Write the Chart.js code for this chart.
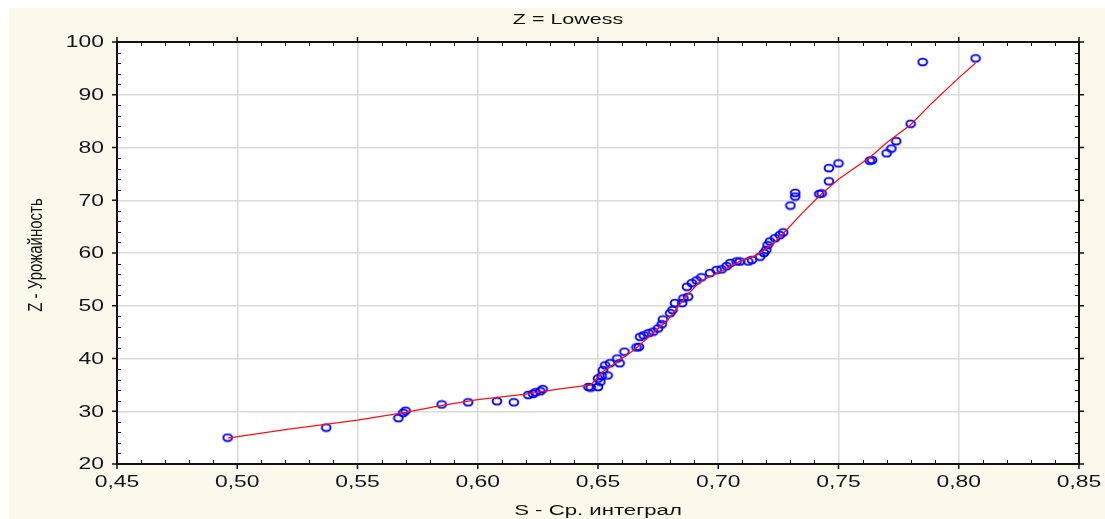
<!DOCTYPE html>
<html>
<head>
<meta charset="utf-8">
<script src="https://cdn.jsdelivr.net/npm/chart.js@4/dist/chart.umd.min.js"></script>
<style>
html,body{margin:0;padding:0;background:#fff;}
#wrap{width:1105px;height:519px;}
</style>
</head>
<body>
<div id="wrap"><canvas id="c" width="1105" height="519"></canvas></div>
<script>
// ---- data ----
const chartTitle = "Z = Lowess";
const xTitle = "S - Ср. интеграл";
const yTitle = "Z - Урожайность";
const xTickValues = [0.45,0.50,0.55,0.60,0.65,0.70,0.75,0.80,0.85];
const xTickLabels = ["0,45","0,50","0,55","0,60","0,65","0,70","0,75","0,80","0,85"];
const yTickValues = [20,30,40,50,60,70,80,90,100];
const yTickLabels = ["20","30","40","50","60","70","80","90","100"];

const sValues = [0.496,0.537,0.567,0.569,0.570,0.585,0.596,0.608,0.615,0.621,0.623,0.624,0.626,0.627,
0.646,0.647,0.650,0.651,0.650,0.6515,0.652,0.653,0.654,0.655,0.658,0.659,0.661,0.666,0.667,0.6675,0.669,
0.671,0.673,0.675,0.6765,0.677,0.680,0.681,0.682,0.685,0.6855,0.6875,0.687,0.689,0.691,0.693,0.6966,
0.6993,0.7014,0.7035,0.705,0.7076,0.709,0.7125,0.714,0.7174,0.719,0.720,0.7205,0.7215,0.7236,0.7256,
0.727,0.730,0.732,0.732,0.742,0.743,0.746,0.746,0.750,0.763,0.764,0.770,0.772,0.774,0.780,0.785,0.807];
const zValues = [25.0,26.9,28.7,29.7,30.1,31.3,31.7,31.9,31.7,33.1,33.3,33.6,33.8,34.2,
34.6,34.5,34.6,35.6,36.2,36.7,37.8,38.7,36.8,39.1,40.0,39.1,41.3,42.1,42.2,44.1,44.4,
44.8,45.1,45.7,46.5,47.4,48.6,49.2,50.5,50.5,51.4,51.7,53.6,54.3,54.8,55.4,56.2,
56.8,56.9,57.5,58.1,58.4,58.4,58.4,58.7,59.3,60.0,60.6,61.5,62.2,62.8,63.4,
63.9,69.0,70.7,71.4,71.2,71.3,73.6,76.1,77.0,77.5,77.6,78.9,79.8,81.2,84.5,96.2,96.9];

const lowessS = [0.496,0.520,0.550,0.570,0.584,0.600,0.619,0.635,0.647,0.652,0.665,0.679,0.687,0.6925,
0.701,0.709,0.716,0.723,0.7285,0.735,0.742,0.750,0.7635,0.770,0.780,0.789,0.800,0.807];
const lowessZ = [24.9,26.5,28.3,29.8,31.0,32.2,33.2,34.3,35.0,37.5,41.6,47.3,52.0,54.6,
56.5,58.4,59.6,61.9,64.4,67.6,70.8,74.0,78.3,80.9,84.3,88.5,93.2,96.0];

const pts = sValues.map((s,i)=>({x:s,y:zValues[i]}));
const linePts = lowessS.map((s,i)=>({x:s,y:lowessZ[i]}));

// ellipse marker (reference markers are slightly wider than tall)
const marker = document.createElement('canvas');
marker.width = 12; marker.height = 10;
(function(){
  const m = marker.getContext('2d');
  m.strokeStyle = '#0000ff';
  m.lineWidth = 1.9;
  m.beginPath();
  m.ellipse(6,5,4.4,3.4,0,0,Math.PI*2);
  m.stroke();
})();

const SX = 1.43; // horizontal stretch of text in the reference
function stretchedText(ctx, text, x, y, align, font, sx){
  ctx.save();
  ctx.translate(x,y);
  ctx.scale(sx,1);
  ctx.font = font;
  ctx.textAlign = align;
  ctx.textBaseline = 'middle';
  ctx.fillText(text,0,0);
  ctx.restore();
}

const decor = {
  id:'decor',
  beforeDraw(chart){
    const ctx = chart.ctx, a = chart.chartArea;
    ctx.save();
    ctx.fillStyle = '#ffffff';
    ctx.fillRect(0,0,chart.width,chart.height);
    ctx.fillStyle = '#fdf8ec';
    ctx.fillRect(9,8,chart.width-9,chart.height-8);
    ctx.fillStyle = '#ffffff';
    ctx.fillRect(a.left,a.top,a.right-a.left,a.bottom-a.top);
    ctx.restore();
  },
  afterDraw(chart){
    const ctx = chart.ctx, a = chart.chartArea;
    const xs = chart.scales.x, ys = chart.scales.y;
    ctx.save();
    ctx.strokeStyle = '#111';
    ctx.lineWidth = 1;
    ctx.beginPath();
    for(let v=20; v<=100.001; v+=2){
      if (Math.abs(v/10-Math.round(v/10))<1e-6) continue;
      const p = Math.round(ys.getPixelForValue(v))+0.5;
      ctx.moveTo(a.left,p); ctx.lineTo(a.left+4,p);
      ctx.moveTo(a.right,p); ctx.lineTo(a.right-4,p);
    }
    for(let i=0;i<=40;i++){
      if (i%5===0) continue;
      const v = 0.45 + i*0.01;
      const p = Math.round(xs.getPixelForValue(v))+0.5;
      ctx.moveTo(p,a.bottom); ctx.lineTo(p,a.bottom-4);
      ctx.moveTo(p,a.top); ctx.lineTo(p,a.top+4);
    }
    ctx.stroke();
    ctx.lineWidth = 1.5;
    ctx.beginPath();
    yTickValues.forEach(v=>{
      const p = ys.getPixelForValue(v);
      ctx.moveTo(a.left-5,p); ctx.lineTo(a.left,p);
      ctx.moveTo(a.right,p); ctx.lineTo(a.right+5,p);
    });
    xTickValues.forEach(v=>{
      const p = xs.getPixelForValue(v);
      ctx.moveTo(p,a.bottom); ctx.lineTo(p,a.bottom+5);
      ctx.moveTo(p,a.top-5); ctx.lineTo(p,a.top);
    });
    ctx.stroke();
    ctx.lineWidth = 2;
    ctx.strokeRect(a.left,a.top,a.right-a.left,a.bottom-a.top);

    ctx.fillStyle = '#15151d';
    const tf = '16px "Liberation Sans", Arial, sans-serif';
    yTickValues.forEach((v,i)=>{
      stretchedText(ctx, yTickLabels[i], a.left-13, ys.getPixelForValue(v)+1, 'right', tf, SX);
    });
    xTickValues.forEach((v,i)=>{
      stretchedText(ctx, xTickLabels[i], xs.getPixelForValue(v), a.bottom+19, 'center', tf, SX);
    });
    ctx.fillStyle = '#111';
    stretchedText(ctx, chartTitle, 568, 20, 'center', '15px "Liberation Sans", Arial, sans-serif', SX);
    stretchedText(ctx, xTitle, 598, 511, 'center', '15.5px "Liberation Sans", Arial, sans-serif', SX);
    ctx.save();
    ctx.translate(36,255);
    ctx.rotate(-Math.PI/2);
    ctx.scale(1,1.35);
    ctx.font = '15px "Liberation Sans", Arial, sans-serif';
    ctx.textAlign='center'; ctx.textBaseline='middle';
    ctx.fillText(yTitle,0,0);
    ctx.restore();
    ctx.restore();
  }
};

new Chart(document.getElementById('c'), {
  type:'scatter',
  data:{
    datasets:[
      { type:'line', label:'Lowess', data:linePts, borderColor:'#ff1010', borderWidth:1.3,
        pointRadius:0, fill:false, tension:0, order:0 },
      { type:'scatter', label:'Z', data:pts, pointStyle:marker, pointRadius:4,
        borderColor:'#0000ff', backgroundColor:'rgba(255,255,255,0)', borderWidth:1.9, order:1 }
    ]
  },
  options:{
    responsive:false,
    devicePixelRatio:1,
    animation:false,
    layout:{padding:{left:117,right:26,top:42,bottom:55}},
    plugins:{legend:{display:false},title:{display:false},tooltip:{enabled:false}},
    scales:{
      x:{type:'linear',min:0.45,max:0.85,
        afterFit(s){s.height=0;},
        afterBuildTicks(s){s.ticks = xTickValues.map(v=>({value:v}));},
        ticks:{display:false},
        border:{display:false},
        grid:{color:'#dadada',lineWidth:1.5,drawTicks:false}},
      y:{type:'linear',min:20,max:100,
        afterFit(s){s.width=0;},
        afterBuildTicks(s){s.ticks = yTickValues.map(v=>({value:v}));},
        ticks:{display:false},
        border:{display:false},
        grid:{color:'#dadada',lineWidth:1.5,drawTicks:false}}
    }
  },
  plugins:[decor]
});
</script>
</body>
</html>
